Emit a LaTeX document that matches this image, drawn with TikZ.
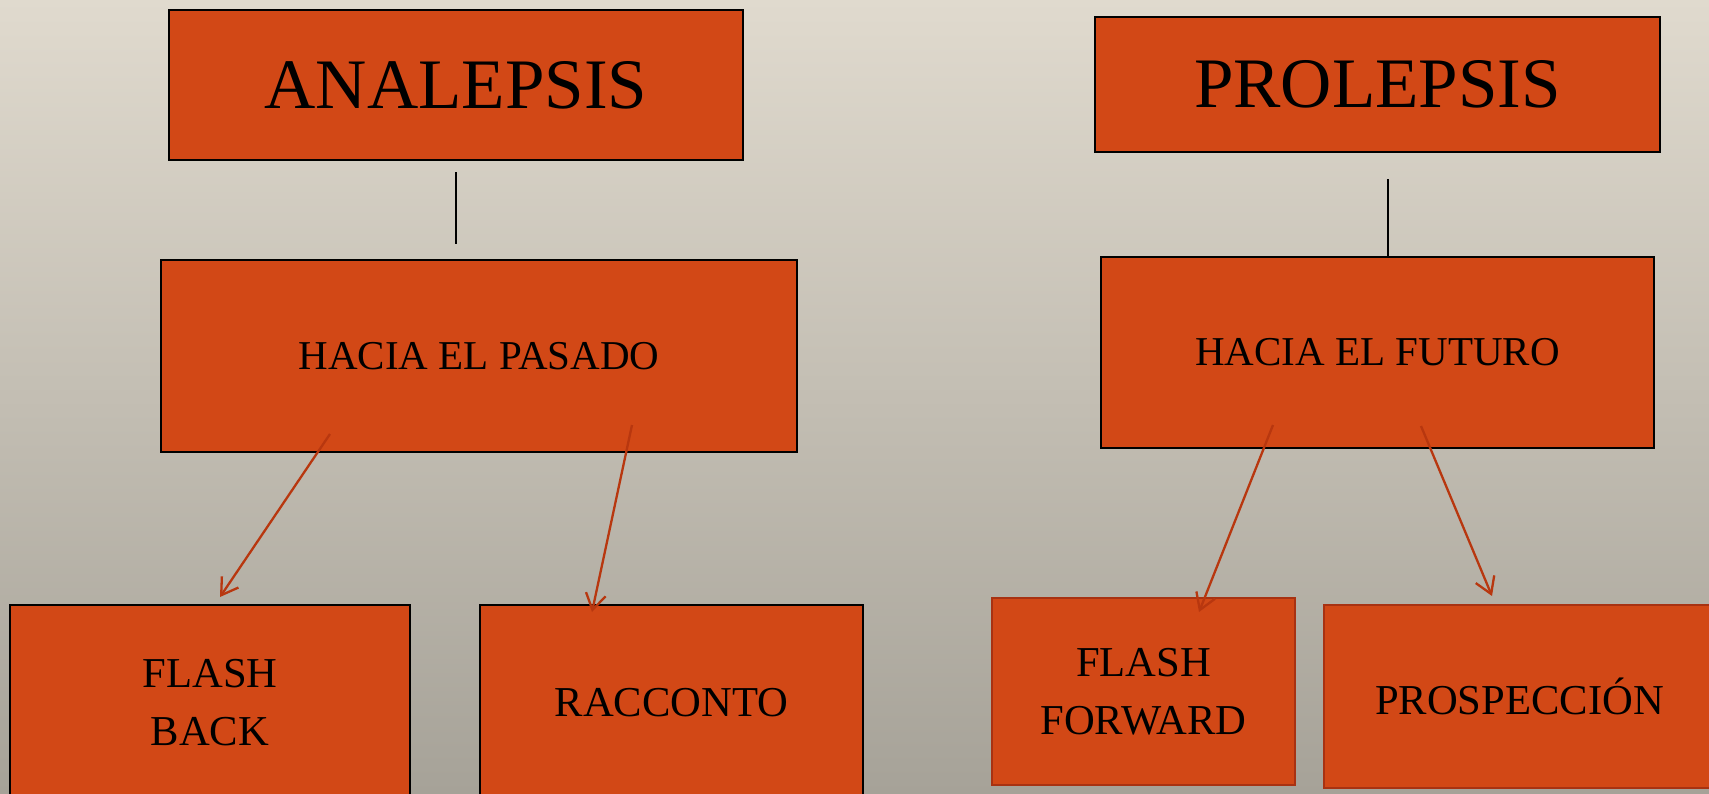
\documentclass[tikz,border=0pt]{standalone}
\usepackage{fontspec}
\setmainfont{Liberation Serif}
\usetikzlibrary{calc,positioning,arrows.meta}
\definecolor{naranja}{RGB}{210,72,22}
\definecolor{flecha}{RGB}{184,55,15}
\definecolor{borde}{RGB}{168,50,18}
\definecolor{fondoA}{RGB}{224,218,206}
\definecolor{fondoB}{RGB}{166,162,152}

\begin{document}
\begin{tikzpicture}[x=0.5pt,y=-0.5pt]
  \tikzstyle{box}=[draw=black,line width=1pt,fill=naranja,inner sep=0pt,align=center,font=\fontsize{20.5}{28.5}\selectfont]
  \tikzstyle{big}=[box,font=\fontsize{35.5}{40}\selectfont]
  \tikzstyle{leaf}=[box,font=\fontsize{21.3}{28.8}\selectfont]
  \tikzstyle{arr}=[draw=flecha,line width=1.15pt,-{Straight Barb[length=8pt,width=10pt]}]
  \useasboundingbox (0,0) rectangle (1709,793);
  \clip (0,0) rectangle (1709,793);
  \fill[top color=fondoA,bottom color=fondoB] (0,0) rectangle (1709,793);
  % titulos
  \node[big,minimum width=287pt,minimum height=75pt] (ana) at (456,85) {ANALEPSIS};
  \node[big,minimum width=282.5pt,minimum height=67.5pt] (pro) at (1377.5,84.5) {PROLEPSIS};
  \node[box,minimum width=318pt,minimum height=96pt] (pas) at (479,356) {HACIA EL PASADO};
  \node[box,minimum width=276.5pt,minimum height=95.5pt] (fut) at (1377.5,352.5) {HACIA EL FUTURO};
  % abajo
  \node[leaf,minimum width=200pt,minimum height=97.5pt] (fb) at (210,702.5) {FLASH\\BACK};
  \node[leaf,minimum width=191.5pt,minimum height=97.5pt] (rac) at (671.5,702.5) {RACCONTO};
  \node[leaf,draw=borde,minimum width=151.5pt,minimum height=93.5pt] (ff) at (1143.5,691.5) {FLASH\\FORWARD};
  \node[leaf,draw=borde,minimum width=195.5pt,minimum height=91.5pt] (pros) at (1519.5,696.5) {PROSPECCIÓN};
  % lineas
  \draw[line width=0.75pt,shorten <=5.5pt,shorten >=7.5pt] (ana.south) -- (ana.south |- pas.north);
  \coordinate (pl) at ($(pro.south)+(10.5,0)$);
  \draw[line width=0.75pt,shorten <=13pt] (pl) -- (pl |- fut.north);
  \foreach \s/\sx/\sy/\e/\ex/\ey in {pas/-149/-19/fb/10/-7, pas/153/-28/rac/-79.5/8, fut/-104.5/-24/ff/55.5/15, fut/43.5/-23/pros/-27.5/-8}{
    \draw[arr] ($(\s.south)+(\sx,\sy)$) -- ($(\e.north)+(\ex,\ey)$);
  }
\end{tikzpicture}
\end{document}
